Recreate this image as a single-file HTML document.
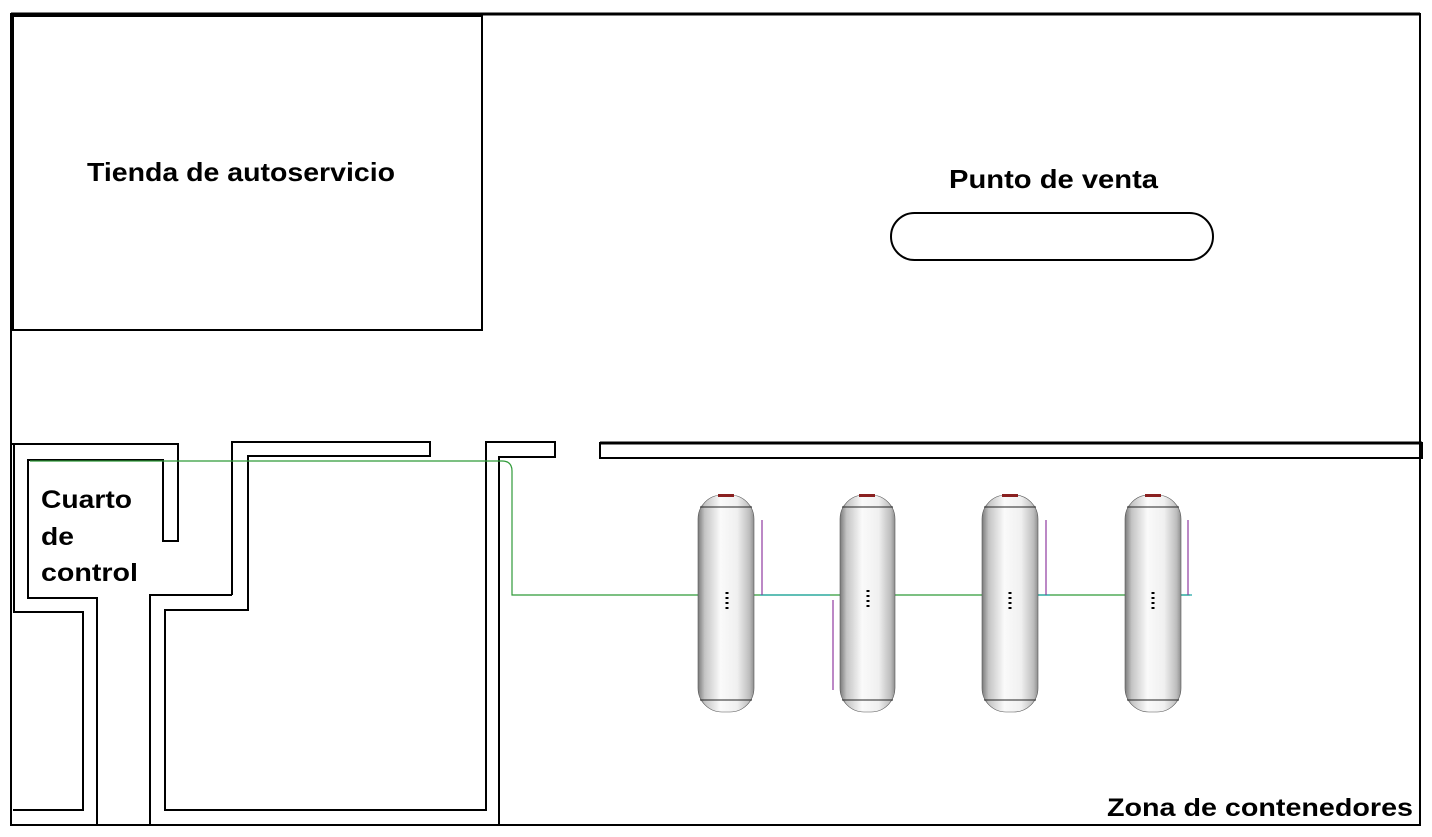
<!DOCTYPE html>
<html><head><meta charset="utf-8"><style>
html,body{margin:0;padding:0;background:#fff;}
svg{display:block;}
text{font-family:"Liberation Sans",sans-serif;font-weight:bold;fill:#000;}
</style></head><body>
<svg width="1432" height="837" viewBox="0 0 1432 837" xmlns="http://www.w3.org/2000/svg">
<defs>
<linearGradient id="tg" x1="0" x2="1" y1="0" y2="0">
<stop offset="0" stop-color="#7a7a7a"/>
<stop offset="0.12" stop-color="#c4c4c4"/>
<stop offset="0.4" stop-color="#fafafa"/>
<stop offset="0.7" stop-color="#f0f0f0"/>
<stop offset="0.92" stop-color="#bdbdbd"/>
<stop offset="1" stop-color="#8f8f8f"/>
</linearGradient>
</defs>
<g fill="none" stroke="#000" stroke-width="2">
<path d="M11 14 H1420 V825 H11 Z"/>
<path d="M11 14 H1420" stroke-width="3"/>
<rect x="13" y="16" width="469" height="314"/>
<path d="M11 444 H178 V541 H163 V460 H28 V598 H97 V825"/>
<path d="M14 444 V612 H83 V810 H13"/>
<path d="M232 595 V442 H430 V456 H248 V610 H165 V810 H486 V442 H555 V457 H499 V825"/>
<path d="M150 825 V595 H232"/>
<path d="M600 443 H1422 V458 H600 Z" stroke-width="2"/>
<path d="M600 443 H1422" stroke-width="3"/>
<rect x="891" y="213" width="322" height="47" rx="23.5"/>
</g>
<g fill="none" stroke-width="1.2">
<path d="M30 461 H502 Q512 461 512 471 V595 H1190" stroke="#2f9a38"/>
<path d="M760 595 H830 M1160 595 H1192 M1020 595 H1050 M840 612 H868" stroke="#20a8a8"/>
<path d="M762 520 V595 M1046 520 V595 M1188 520 V595 M833 600 V690" stroke="#903aa0"/>
</g>
<g stroke="#555" stroke-width="0.6">
<rect x="698" y="495" width="56" height="217" rx="24" fill="url(#tg)"/>
<rect x="840" y="495" width="55" height="217" rx="24" fill="url(#tg)"/>
<rect x="982" y="495" width="56" height="217" rx="24" fill="url(#tg)"/>
<rect x="1125" y="495" width="56" height="217" rx="24" fill="url(#tg)"/>
</g>
<g stroke="#222" stroke-width="1">
<path d="M700 507 H752 M700 700 H752 M842 507 H893 M842 700 H893 M984 507 H1036 M984 700 H1036 M1127 507 H1179 M1127 700 H1179"/>
</g>
<g fill="#8a2020">
<rect x="718" y="494" width="16" height="3"/><rect x="859" y="494" width="16" height="3"/>
<rect x="1002" y="494" width="16" height="3"/><rect x="1145" y="494" width="16" height="3"/>
</g>
<g stroke="#000" stroke-width="3" stroke-dasharray="2 3">
<path d="M727 592 V612 M868 590 V608 M1010 592 V612 M1153 592 V612"/>
</g>
<text x="87" y="181" font-size="26" textLength="308" lengthAdjust="spacingAndGlyphs">Tienda de autoservicio</text>
<text x="949" y="188" font-size="26" textLength="209" lengthAdjust="spacingAndGlyphs">Punto de venta</text>
<text x="41" y="508" font-size="25" textLength="91" lengthAdjust="spacingAndGlyphs">Cuarto</text>
<text x="41" y="545" font-size="25" textLength="33" lengthAdjust="spacingAndGlyphs">de</text>
<text x="41" y="581" font-size="25" textLength="97" lengthAdjust="spacingAndGlyphs">control</text>
<text x="1107" y="816" font-size="25" textLength="306" lengthAdjust="spacingAndGlyphs">Zona de contenedores</text>
</svg>
</body></html>
